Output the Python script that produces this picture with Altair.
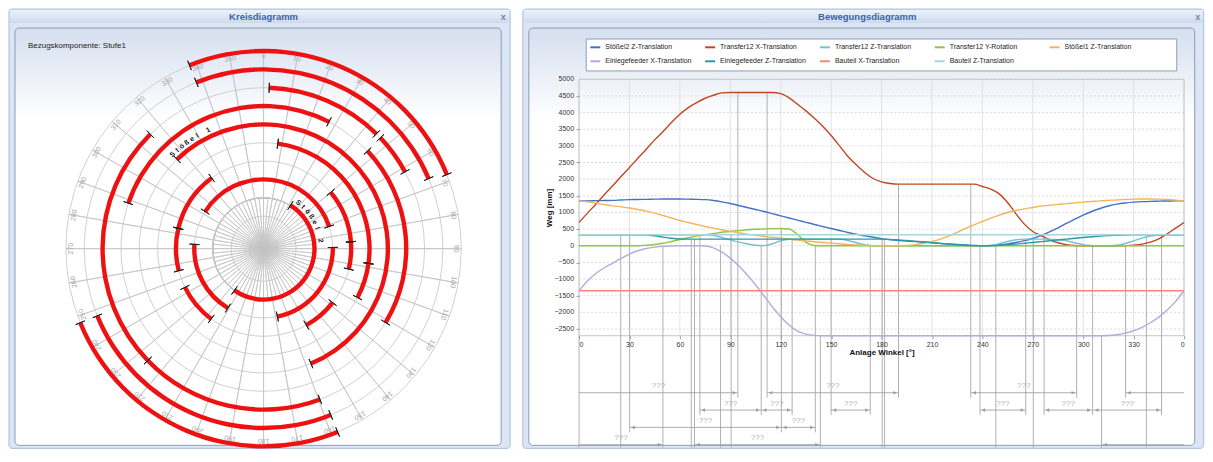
import math
import altair as alt
import pandas as pd

# ======================= Kreisdiagramm (polar) =======================
ARC_RING  = [8, 8, 7, 7, 6, 6, 6, 6, 5, 5, 4, 3, 3, 2, 2, 2, 2, 2, 2, 1, 1, 1, 0]
ARC_START = [338, 158, 338, 158, 2, 46.5, 159.5, 226, 288.6, 46.8, 315.9, 7.7, 98,
             50, 85.5, 128, 216.7, 255.4, 283.4, 302.4, 89, 211, 31.9]
ARC_END   = [68, 248, 67, 248, 44.5, 61.5, 226, 315.3, 27.3, 121.2, 157.6, 98, 117.5,
             85.5, 103.5, 150.8, 243.8, 283.4, 323.7, 71.3, 168.5, 273.6, 214.9]
GRID_RINGS = [-2, -1, 0, 1, 2, 3, 4, 5, 6, 7, 8]
SPOKE_DEG = list(range(0, 360, 10))
INNER_SPOKE_DEG = list(range(5, 360, 10))
DEG_LABELS = [str(d) for d in SPOKE_DEG]
RING_LABEL_TEXT = ["Stößel 1", "Stößel 2"]
RING_LABEL_RING = [4, 0]
RING_LABEL_FROM = [316, 37]
RING_LABEL_TO = [335, 82]
REF_TEXT = "Bezugskomponente: Stufe1"
LEFT_TITLE = "Kreisdiagramm"
RIGHT_TITLE = "Bewegungsdiagramm"

# ======================= Bewegungsdiagramm (lines) =======================
ANGLES = list(range(0, 365, 5))
S2Z = [1350, 1350, 1355, 1360, 1365, 1375, 1385, 1390, 1395, 1400, 1405, 1405, 1405, 1400, 1395,
       1385, 1360, 1320, 1270, 1210, 1150, 1090, 1030, 965, 900, 835, 770, 705, 640, 580,
       520, 460, 400, 350, 300, 255, 215, 185, 160, 140, 125, 108, 90, 72, 55,
       40, 25, 10, 0, 8, 25, 55, 100, 155, 220, 310, 420, 540, 670, 800,
       920, 1030, 1120, 1195, 1250, 1285, 1310, 1325, 1335, 1340, 1345, 1348, 1350]
T12X = [700, 980, 1250, 1530, 1800, 2080, 2350, 2630, 2900, 3180, 3430, 3700, 3950, 4150, 4300,
        4430, 4520, 4590, 4600, 4600, 4600, 4600, 4600, 4600, 4570, 4440, 4250, 4050, 3830, 3590,
        3310, 3000, 2680, 2430, 2200, 2020, 1920, 1870, 1850, 1850, 1850, 1850, 1850, 1850, 1850,
        1850, 1850, 1850, 1780, 1700, 1560, 1300, 960, 650, 430, 300, 180, 90, 35, 8,
        0, 0, 0, 0, 0, 5, 20, 50, 110, 210, 360, 530, 700]
T12Z = [330, 330, 330, 330, 330, 330, 330, 330, 330, 330, 330, 330, 330, 330, 330,
        330, 310, 250, 180, 110, 60, 15, 5, 60, 150, 195, 200, 200, 200, 200,
        200, 200, 160, 90, 30, 5, 0, 0, 0, 0, 0, 0, 0, 0, 0,
        0, 0, 0, 0, 0, 60, 130, 180, 200, 200, 200, 200, 185, 150, 90,
        35, 8, 0, 0, 15, 70, 150, 230, 290, 320, 330, 330, 330]
T12R = [0, 0, 0, 0, 0, 0, 0, 0, 15, 40, 75, 130, 185, 240, 290,
        335, 370, 405, 430, 455, 480, 495, 505, 515, 520, 505, 340, 105, 10, 0,
        0, 0, 0, 0, 0, 0, 0, 0, 0, 0, 0, 0, 0, 0, 0,
        0, 0, 0, 0, 0, 0, 0, 0, 0, 0, 0, 0, 0, 0, 0,
        0, 0, 0, 0, 0, 0, 0, 0, 0, 0, 0, 0, 0]
S1Z = [1350, 1320, 1285, 1240, 1200, 1170, 1135, 1090, 1040, 980, 910, 835, 760, 700, 640,
       580, 530, 480, 435, 390, 350, 315, 285, 255, 230, 200, 170, 145, 120, 100,
       80, 60, 40, 25, 12, 5, 0, 0, 0, 10, 35, 75, 130, 200, 290,
       400, 520, 630, 730, 830, 920, 1000, 1060, 1110, 1150, 1190, 1220, 1245, 1265, 1290,
       1310, 1330, 1350, 1365, 1380, 1390, 1400, 1405, 1405, 1400, 1390, 1372, 1350]
EFX = [-1350, -1060, -830, -660, -520, -380, -250, -150, -80, -40, -15, -5, 0, 0, 0,
       -5, -60, -190, -370, -600, -870, -1170, -1500, -1830, -2130, -2380, -2560, -2650, -2690, -2700,
       -2700, -2700, -2700, -2700, -2700, -2700, -2700, -2700, -2700, -2700, -2700, -2700, -2700, -2700, -2700,
       -2700, -2700, -2700, -2700, -2700, -2700, -2700, -2700, -2700, -2700, -2700, -2700, -2700, -2700, -2700,
       -2700, -2700, -2700, -2695, -2670, -2620, -2550, -2450, -2310, -2140, -1930, -1670, -1350]
EFZ = [330, 330, 330, 330, 330, 330, 330, 330, 330, 300, 260, 225, 205, 200, 200,
       200, 200, 200, 200, 200, 200, 200, 200, 200, 200, 200, 200, 200, 200, 200,
       200, 200, 200, 200, 200, 200, 200, 190, 175, 160, 140, 120, 95, 70, 50,
       30, 15, 5, 0, 5, 15, 30, 50, 75, 100, 125, 150, 175, 200, 225,
       250, 270, 290, 305, 315, 325, 330, 330, 330, 330, 330, 330, 330]
BTX = [-1350] * len(ANGLES)
BTZ = [330] * len(ANGLES)

SERIES = ["Stößel2 Z-Translation", "Transfer12 X-Translation", "Transfer12 Z-Translation",
          "Transfer12 Y-Rotation", "Stößel1 Z-Translation", "Einlegefeeder X-Translation",
          "Einlegefeeder Z-Translation", "Bauteil X-Translation", "Bauteil Z-Translation"]
VALUES = [S2Z, T12X, T12Z, T12R, S1Z, EFX, EFZ, BTX, BTZ]
COLORS = ["#4472c4", "#c2461f", "#72c2d3", "#8dc641", "#f2b45b",
          "#b6abdf", "#2a9aa3", "#f4867a", "#a8d6da"]
X_TICKS = list(range(0, 361, 30))
Y_TICKS = list(range(-2500, 5001, 500))

# timing intervals below the chart (row, start angle, end angle)
IV_ROW   = [1, 1, 1, 2, 2, 2, 2, 2, 2, 3, 3, 4, 4]
IV_START = [325.2, 111.9, 233.1, 71.9, 108.4, 150.0, 238.6, 276.7, 306.0, 30.1, 120.4, 311.0, 68.7]
IV_END   = [94.5, 190.1, 296.1, 108.4, 126.8, 173.3, 265.8, 305.4, 346.6, 120.4, 140.6, 49.9, 143.6]
IV_TEXT = "???"
# vertical marker lines (angle, value where the line starts, row where it ends; 5 = bottom)
MK_ANGLE = [0, 24.8, 30.1, 49.9, 66.8, 68.7, 71.9, 84.2, 90.5, 94.5, 108.4, 111.9, 120.4, 126.8,
            140.6, 143.6, 150, 173.3, 180.4, 181.8, 190.1, 233.1, 238.6, 248, 265.8, 270.3,
            276.7, 296.1, 305.6, 310.9, 325.2, 337.6, 346.6]
MK_TOP = [-2700, 330, 330, 0, 200, 200, 300, 30, 330, 4600, 0, 4600, 520, 200,
          0, -2700, 200, 0, 200, 200, 1850, 1850, 0, 0, 200, 200,
          330, 0, 0, -2700, 0, 280, 330]
MK_ROW = [5, 5, 3, 4, 5, 4, 2, 5, 5, 1, 2, 1, 3, 2,
          3, 4, 2, 2, 5, 5, 1, 1, 2, 5, 2, 5,
          2, 1, 2, 4, 1, 5, 2]

# ----------------------------------------------------------------------
FONT = "Liberation Sans"
TITLE_COLOR = "#3d62a6"
GRID = "#c4c4c4"
FRAME_FILL = "#dbe5f3"
FRAME_STROKE = "#a9bcd9"
PANEL_STROKE = "#8d9bb3"
panel_grad = alt.Gradient(gradient="linear", x1=0, x2=0, y1=0, y2=1,
                          stops=[alt.GradientStop(offset=0, color="#d5dfef"),
                                 alt.GradientStop(offset=0.22, color="#ffffff"),
                                 alt.GradientStop(offset=1, color="#ffffff")])
bar_grad = alt.Gradient(gradient="linear", x1=0, x2=0, y1=0, y2=1,
                        stops=[alt.GradientStop(offset=0, color="#edf2fa"),
                               alt.GradientStop(offset=1, color="#ccdaee")])
one = pd.DataFrame({"o": [0]})
NO_STROKE = alt.ViewBackground(stroke="transparent", strokeWidth=0)

VIEW_TOP = 78.3   # page y of the top of both plot views


def chrome(page_x0, page_x1, view_x, title, title_x, close_x):
    """Window frame around a panel; coordinates given in page pixels, converted to view pixels."""
    px = lambda v: v - view_x
    py = lambda v: v - VIEW_TOP
    outer = alt.Chart(one).mark_rect(fill=FRAME_FILL, stroke=FRAME_STROKE, strokeWidth=1,
                                     cornerRadius=3).encode(
        x=alt.value(px(page_x0)), x2=alt.value(px(page_x1)), y=alt.value(py(8)), y2=alt.value(py(448)))
    bar = alt.Chart(one).mark_rect(fill=bar_grad, strokeWidth=0).encode(
        x=alt.value(px(page_x0 + 1)), x2=alt.value(px(page_x1 - 1)), y=alt.value(py(9)), y2=alt.value(py(22)))
    inner = alt.Chart(one).mark_rect(fill=panel_grad, stroke=PANEL_STROKE, strokeWidth=1,
                                     cornerRadius=4).encode(
        x=alt.value(px(page_x0 + 6)), x2=alt.value(px(page_x1 - 9)), y=alt.value(py(27)), y2=alt.value(py(445)))
    ttl = alt.Chart(pd.DataFrame({"t": [title]})).mark_text(
        fontSize=9.5, fontWeight="bold", color=TITLE_COLOR, font=FONT, baseline="middle").encode(
        text="t:N", x=alt.value(px(title_x)), y=alt.value(py(15.5)))
    cls = alt.Chart(pd.DataFrame({"t": ["x"]})).mark_text(
        fontSize=9, fontWeight="bold", color="#6f86ad", font=FONT, baseline="middle").encode(
        text="t:N", x=alt.value(px(close_x)), y=alt.value(py(15.5)))
    return [outer, bar, inner, ttl, cls]


# ---- polar layout: view spans page x 8..518, y 78.3..417.7 -> centre (263, 248) ----
L_X = 8
L_W, L_H = 510, 339.4
RS = alt.Scale(type="linear", domain=[0, 8], range=[51, 198], zero=False)
rad = math.pi / 180

arc_rows, tick_rows = [], []
for k, s, e in zip(ARC_RING, ARC_START, ARC_END):
    e2 = e if e > s else e + 360
    arc_rows.append({"k": k, "a0": s * rad, "a1": e2 * rad})
    tick_rows.append({"k": k, "a": s * rad})
    tick_rows.append({"k": k, "a": e2 * rad})
arcs_df = pd.DataFrame(arc_rows)
ticks_df = pd.DataFrame(tick_rows)
grid_df = pd.DataFrame({"k": GRID_RINGS, "t0": 0.0, "t1": 2 * math.pi})
spoke_df = pd.DataFrame({"a": [d * rad for d in SPOKE_DEG], "k": 8})
ispoke_df = pd.DataFrame({"a": [d * rad for d in INNER_SPOKE_DEG], "k": 0})
lab_df = pd.DataFrame({"a": [d * rad for d in SPOKE_DEG], "deg": SPOKE_DEG, "lab": DEG_LABELS, "k": 7.72})

chars = []
for txt, k, a0, a1 in zip(RING_LABEL_TEXT, RING_LABEL_RING, RING_LABEL_FROM, RING_LABEL_TO):
    n = len(txt)
    for i, ch in enumerate(txt):
        d = a0 + (a1 - a0) * i / (n - 1)
        chars.append({"ch": ch, "a": d * rad, "deg": d, "k": k + 0.36})
chars_df = pd.DataFrame(chars)

th = lambda f: alt.Theta(f, scale=None, stack=None)

grid_l = alt.Chart(grid_df).mark_arc(filled=False, color=GRID, strokeWidth=0.8).encode(
    theta=th("t0:Q"), theta2="t1:Q", radius=alt.Radius("k:Q", scale=RS))
spokes = alt.Chart(spoke_df).mark_arc(filled=False, color=GRID, strokeWidth=0.8).encode(
    theta=th("a:Q"), theta2="a:Q", radius=alt.Radius("k:Q", scale=RS), radius2=alt.value(0))
ispokes = alt.Chart(ispoke_df).mark_arc(filled=False, color=GRID, strokeWidth=0.7).encode(
    theta=th("a:Q"), theta2="a:Q", radius=alt.Radius("k:Q", scale=RS), radius2=alt.value(0))
red = alt.Chart(arcs_df).mark_arc(color="#ee1111", radiusOffset=2.2, radius2Offset=-2.2).encode(
    theta=th("a0:Q"), theta2="a1:Q", radius=alt.Radius("k:Q", scale=RS), radius2="k:Q")
ticks = alt.Chart(ticks_df).mark_arc(filled=False, color="#222222", strokeWidth=1,
                                     radiusOffset=5, radius2Offset=-5).encode(
    theta=th("a:Q"), theta2="a:Q", radius=alt.Radius("k:Q", scale=RS), radius2="k:Q")
deglab = alt.Chart(lab_df).mark_text(fontSize=7, color="#a6a6a6", font=FONT).encode(
    theta=th("a:Q"), radius=alt.Radius("k:Q", scale=RS),
    angle=alt.Angle("deg:Q", scale=None), text="lab:N")
ringlab = alt.Chart(chars_df).mark_text(fontSize=7, fontWeight="bold", color="#111111", font=FONT).encode(
    theta=th("a:Q"), radius=alt.Radius("k:Q", scale=RS),
    angle=alt.Angle("deg:Q", scale=None), text="ch:N")
reftext = alt.Chart(pd.DataFrame({"t": [REF_TEXT]})).mark_text(
    align="left", baseline="middle", fontSize=8, color="#222222", font=FONT).encode(
    text="t:N", x=alt.value(27 - L_X), y=alt.value(45 - VIEW_TOP))

left_chrome = chrome(8, 510, L_X, LEFT_TITLE, 263, 503)
left = alt.layer(*left_chrome, grid_l, spokes, ispokes, red, ticks, deglab, ringlab, reftext).properties(
    width=L_W, height=L_H, view=NO_STROKE)

# ---- line chart layout: view spans page x 578.3..1184.3, y 78.3..447.3 ----
R_X = 578.3
R_W, R_H = 606, 369
Y_MAX, PLOT_BOTTOM = 5000, -2700
PLOT_H = 256.9
Y_MIN = Y_MAX - R_H * (Y_MAX - PLOT_BOTTOM) / PLOT_H
ROW_Y0, ROW_STEP, ROW_TAIL = -4412, 520, 150
axis_offset = -(R_H - PLOT_H)

XS = alt.Scale(domain=[0, 360], nice=False, zero=False)
YS = alt.Scale(domain=[Y_MIN, Y_MAX], nice=False, zero=False)

long_rows = []
for name, vals in zip(SERIES, VALUES):
    for a, v in zip(ANGLES, vals):
        long_rows.append({"series": name, "angle": a, "value": v})
lines_df = pd.DataFrame(long_rows)

x_axis = alt.Axis(values=X_TICKS, labelExpr="datum.value == 360 ? '0' : datum.value",
                  offset=axis_offset, domain=False, grid=False, tickSize=3, tickColor="#9a9a9a",
                  labelFontSize=7, labelColor="#333333", labelPadding=2, labelFont=FONT,
                  labelOverlap=False,
                  title="Anlage Winkel [°]", titleFontSize=8, titleFontWeight="bold",
                  titlePadding=1, titleFont=FONT, titleColor="#111111", zindex=1)
y_axis = alt.Axis(values=Y_TICKS, labels=False, domain=False, grid=False,
                  tickSize=3, tickColor="#9a9a9a",
                  title="Weg [mm]", titleFontSize=8, titleFontWeight="bold", titleFont=FONT,
                  titleColor="#111111", titleY=PLOT_H / 2, titlePadding=22, zindex=1)

legend = alt.Legend(orient="none", legendX=6.3, legendY=-42, columns=5, direction="horizontal",
                    title=None, symbolType="stroke", symbolStrokeWidth=2, symbolSize=100,
                    labelFontSize=7, labelFont=FONT, labelColor="#222222", labelLimit=250,
                    padding=4, rowPadding=4, columnPadding=9, gridAlign="all", labelOffset=4)

right_chrome = chrome(522, 1204, R_X, RIGHT_TITLE, 867, 1198)
legend_box = alt.Chart(one).mark_rect(fill="white", stroke="#8e9dbb", strokeWidth=1).encode(
    x=alt.value(585.5 - R_X), x2=alt.value(1177 - R_X), y=alt.value(38 - VIEW_TOP), y2=alt.value(70 - VIEW_TOP))

ygrid = alt.Chart(pd.DataFrame({"y": Y_TICKS})).mark_rule(
    color="#d2d2d2", strokeWidth=0.8, strokeDash=[2, 2]).encode(
    y=alt.Y("y:Q", scale=YS, axis=y_axis), x=alt.X(datum=0, scale=XS, axis=x_axis), x2=alt.X2(datum=360))
ylabels = alt.Chart(pd.DataFrame({"y": Y_TICKS})).mark_text(
    align="right", baseline="middle", fontSize=7, color="#333333", font=FONT, dx=-5).encode(
    y=alt.Y("y:Q", scale=YS), x=alt.X(datum=0, scale=XS), text=alt.Text("y:Q", format="d"))
xgrid = alt.Chart(pd.DataFrame({"x": X_TICKS})).mark_rule(color="#dcdcdc", strokeWidth=0.8).encode(
    x=alt.X("x:Q", scale=XS), y=alt.Y(datum=Y_MAX, scale=YS), y2=alt.Y2(datum=PLOT_BOTTOM))
frame = alt.Chart(pd.DataFrame({"x0": [0], "x1": [360]})).mark_rect(
    filled=False, color="#c6c6c6", strokeWidth=1).encode(
    x=alt.X("x0:Q", scale=XS), x2="x1:Q", y=alt.Y(datum=Y_MAX, scale=YS), y2=alt.Y2(datum=PLOT_BOTTOM))

mk_df = pd.DataFrame({"angle": MK_ANGLE, "top": MK_TOP, "row": MK_ROW})
markers = alt.Chart(mk_df).transform_calculate(
    bottom=f"datum.row >= 5 ? {Y_MIN} : max({Y_MIN}, {ROW_Y0} - {ROW_STEP} * (datum.row - 1) - {ROW_TAIL})"
).mark_rule(color="#a8a8a8", strokeWidth=0.9).encode(
    x=alt.X("angle:Q", scale=XS), y=alt.Y("top:Q", scale=YS), y2="bottom:Q")

seg_rows = []
for r, s, e in zip(IV_ROW, IV_START, IV_END):
    if s < e:
        seg_rows.append({"row": r, "s": s, "e": e, "sa": 1, "ea": 1, "lab": IV_TEXT})
    else:
        seg_rows.append({"row": r, "s": s, "e": 360, "sa": 1, "ea": 0, "lab": ""})
        seg_rows.append({"row": r, "s": 0, "e": e, "sa": 0, "ea": 1, "lab": IV_TEXT})
seg_df = pd.DataFrame(seg_rows)
seg_base = alt.Chart(seg_df).transform_calculate(
    ry=f"{ROW_Y0} - {ROW_STEP} * (datum.row - 1)", mid="(datum.s + datum.e) / 2")
seg_lines = seg_base.mark_rule(color="#a4a4a4", strokeWidth=0.9).encode(
    x=alt.X("s:Q", scale=XS), x2="e:Q", y=alt.Y("ry:Q", scale=YS))
arr_s = seg_base.transform_filter("datum.sa == 1").mark_point(
    shape="triangle-left", filled=True, size=14, color="#999999", opacity=1, xOffset=3.5).encode(
    x=alt.X("s:Q", scale=XS), y=alt.Y("ry:Q", scale=YS))
arr_e = seg_base.transform_filter("datum.ea == 1").mark_point(
    shape="triangle-right", filled=True, size=14, color="#999999", opacity=1, xOffset=-3.5).encode(
    x=alt.X("e:Q", scale=XS), y=alt.Y("ry:Q", scale=YS))
seg_text = seg_base.transform_filter("datum.lab != ''").mark_text(
    fontSize=8, color="#b0b0b0", dy=-6.5, font=FONT).encode(
    x=alt.X("mid:Q", scale=XS), y=alt.Y("ry:Q", scale=YS), text="lab:N")

series_lines = alt.Chart(lines_df).mark_line(strokeWidth=1.4, interpolate="monotone").encode(
    x=alt.X("angle:Q", scale=XS), y=alt.Y("value:Q", scale=YS),
    color=alt.Color("series:N", scale=alt.Scale(domain=SERIES, range=COLORS), legend=legend,
                    sort=SERIES),
    detail="series:N")

right = alt.layer(*right_chrome, legend_box, ygrid, ylabels, xgrid, frame, markers, seg_lines, arr_s,
                  arr_e, seg_text, series_lines).properties(width=R_W, height=R_H, view=NO_STROKE)

chart = alt.hconcat(left, right, spacing=4).resolve_legend(color="independent").properties(
    padding=0).configure_view(strokeWidth=0, stroke="transparent").configure(
    background="white", font=FONT)

chart.save("out.html", embed_options={"renderer": "svg", "actions": False})
